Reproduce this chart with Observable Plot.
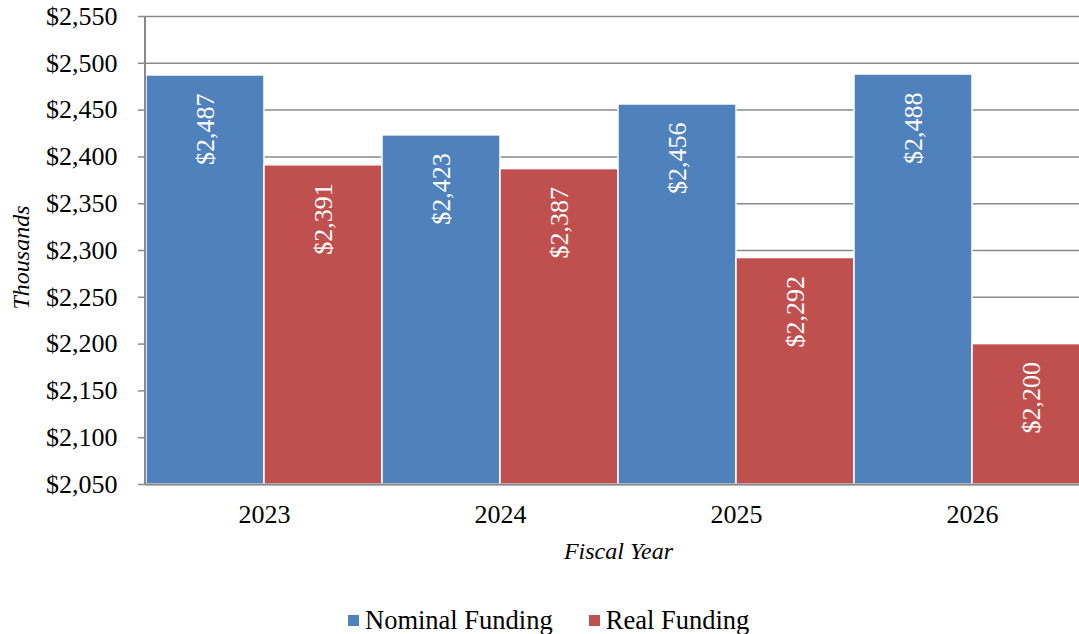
<!DOCTYPE html>
<html><head><meta charset="utf-8">
<script src="https://cdn.jsdelivr.net/npm/d3@7"></script>
<script src="https://cdn.jsdelivr.net/npm/@observablehq/plot@0.6"></script>
<style>
html,body{margin:0;padding:0;background:#fff;overflow:hidden}
#chart{position:relative;width:1079px;height:634px}
.legend{position:absolute;left:348px;top:605px;font-family:"Liberation Serif","Times New Roman",serif;font-size:26.5px;color:#000;display:flex;align-items:center;white-space:nowrap;line-height:30px}
.item{display:flex;align-items:center;margin-right:36px}
.sw{display:inline-block;width:11px;height:11px;margin-right:6px}
</style></head><body><div id="chart"></div>
<script>
const years = ["2023", "2024", "2025", "2026"];
const seriesNames = ["Nominal Funding", "Real Funding"];
const nominal = [2487, 2423, 2456, 2488];
const real = [2391, 2387, 2292, 2200];
const yTicks = [2050, 2100, 2150, 2200, 2250, 2300, 2350, 2400, 2450, 2500, 2550];
const colors = ["#4F81BD", "#C0504D"];
const yTitle = "Thousands";
const xTitle = "Fiscal Year";

const data = years.flatMap((yr, i) => [
  {year: yr, series: seriesNames[0], value: nominal[i]},
  {year: yr, series: seriesNames[1], value: real[i]}
]);
const fmt = d => "$" + d3.format(",")(d);
const serif = "'Liberation Serif', 'Times New Roman', serif";

const plot = Plot.plot({
  width: 1079, height: 590,
  marginTop: 16, marginBottom: 106, marginLeft: 146, marginRight: -11,
  style: {fontFamily: serif, fontSize: "26px", color: "#000", overflow: "hidden", background: "#fff"},
  fx: {domain: years, padding: 0, label: null},
  x: {domain: seriesNames, padding: 0, axis: null},
  y: {domain: [2050, 2550], label: null},
  color: {domain: seriesNames, range: colors},
  marks: [
    Plot.ruleY(yTicks, {y: d => d, stroke: "#8a8a8a", strokeWidth: 1.5}),
    Plot.barY(data, {fx: "year", x: "series", y1: () => 2050, y2: "value", fill: "series", stroke: "#fff", strokeWidth: 1.5}),
    Plot.text(data, {fx: "year", x: "series", y: "value", text: d => fmt(d.value), rotate: -90, textAnchor: "end", lineAnchor: "middle", dy: 18, fill: "#fff", fontSize: 26}),
    Plot.ruleY([2050], {y: d => d, stroke: "#8a8a8a", strokeWidth: 2}),
    Plot.barY([{fx: "2023", s: seriesNames[0]}], {fx: "fx", x: "s", y1: () => 2050, y2: () => 2550, insetRight: 116, dx: -2, fill: "#8a8a8a"}),
    Plot.axisY({ticks: yTicks, tickFormat: fmt, tickSize: 8, tickPadding: 21, stroke: "#8a8a8a", strokeWidth: 1.5, label: null, fontSize: 26}),
    Plot.axisFx({anchor: "bottom", tickSize: 0, tickPadding: 20, label: null, fontSize: 26}),
    Plot.text([yTitle], {fx: () => "2023", text: d => d, frameAnchor: "left", textAnchor: "middle", dx: -125, dy: 7, rotate: -90, fontStyle: "italic", fontSize: 24, lineAnchor: "middle"}),
    Plot.text([xTitle], {fx: () => "2024", text: d => d, frameAnchor: "bottom-right", textAnchor: "middle", lineAnchor: "middle", dy: 67, fontStyle: "italic", fontSize: 24})
  ]
});
const chart = document.getElementById("chart");
chart.appendChild(plot);
const legend = document.createElement("div");
legend.className = "legend";
seriesNames.forEach((s, i) => {
  const it = document.createElement("span");
  it.className = "item";
  const sw = document.createElement("span");
  sw.className = "sw";
  sw.style.background = colors[i];
  it.appendChild(sw);
  it.appendChild(document.createTextNode(s));
  legend.appendChild(it);
});
chart.appendChild(legend);
</script></body></html>
